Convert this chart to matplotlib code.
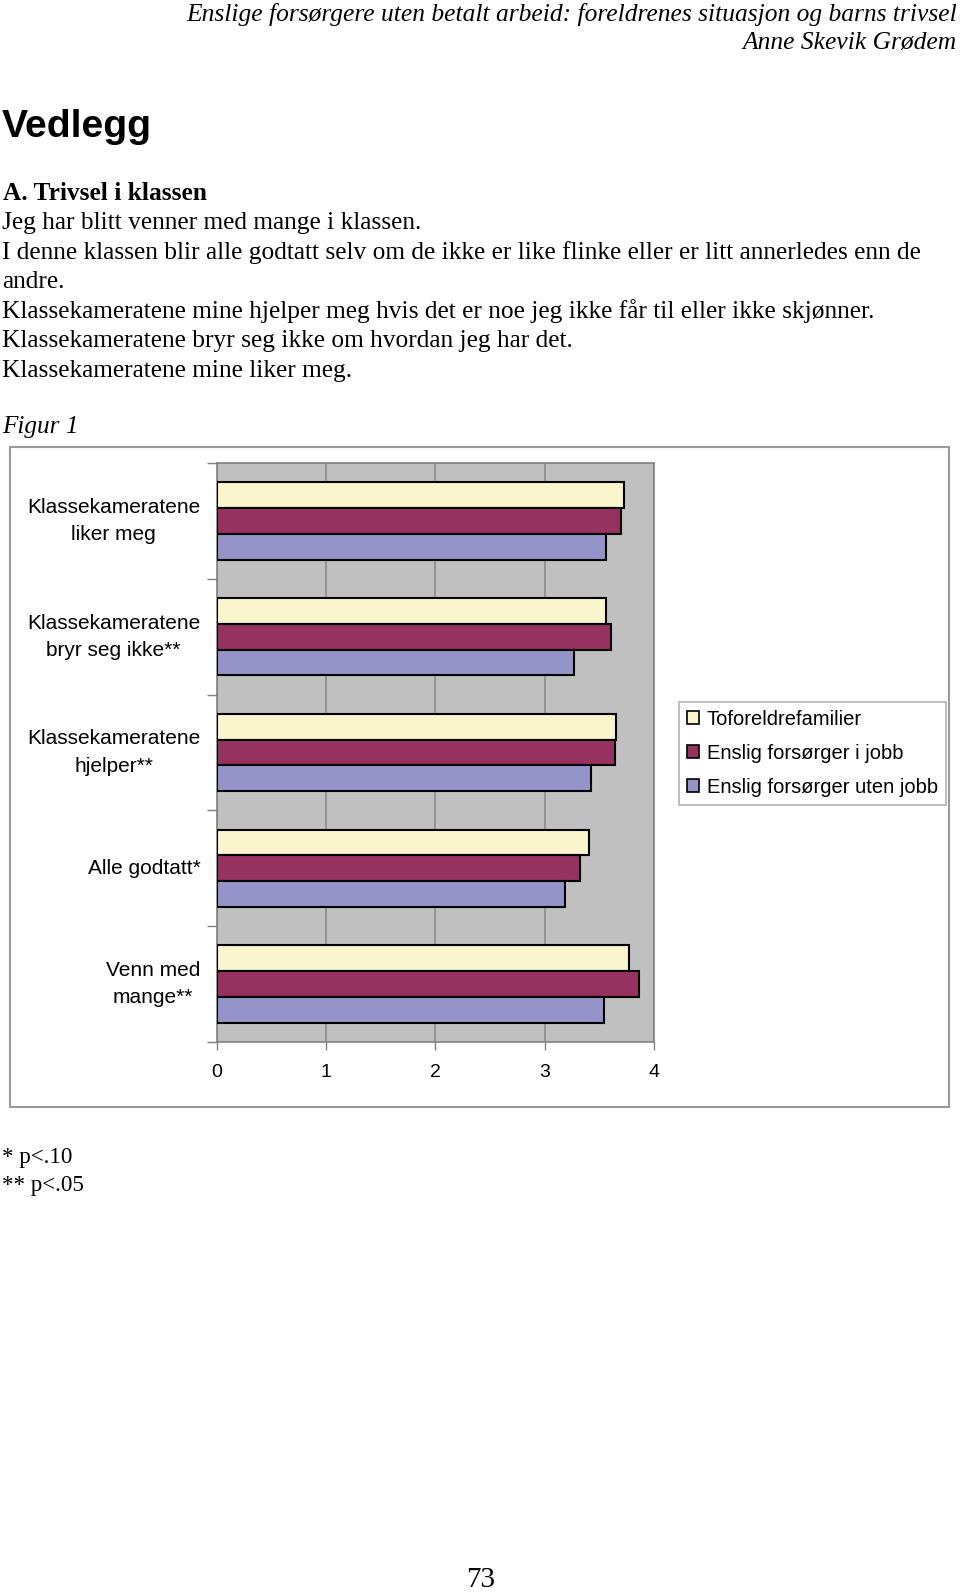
import numpy as np
import matplotlib.pyplot as plt
from matplotlib.patches import Rectangle

categories = ['Klassekameratene\nliker meg', 'Klassekameratene\nbryr seg ikke**',
              'Klassekameratene\nhjelper**', 'Alle godtatt*', 'Venn med\nmange**']
series = ['Toforeldrefamilier', 'Enslig forsørger i jobb', 'Enslig forsørger uten jobb']
toforeldre = [3.73, 3.56, 3.65, 3.41, 3.77]
i_jobb = [3.70, 3.61, 3.64, 3.32, 3.86]
uten_jobb = [3.56, 3.27, 3.42, 3.19, 3.54]
colors = ['#FAF5CD', '#96325F', '#9494C8']

body_lines = [
    'Jeg har blitt venner med mange i klassen.',
    'I denne klassen blir alle godtatt selv om de ikke er like flinke eller er litt annerledes enn de',
    'andre.',
    'Klassekameratene mine hjelper meg hvis det er noe jeg ikke får til eller ikke skjønner.',
    'Klassekameratene bryr seg ikke om hvordan jeg har det.',
    'Klassekameratene mine liker meg.',
]

W, H = 960, 1595
fig = plt.figure(figsize=(W / 100, H / 100), dpi=100)
serif = 'Liberation Serif'
sans = 'Liberation Sans'

def px(x, y):
    return x / W, 1 - y / H

# page text
fig.text(*px(957, 14), 'Enslige forsørgere uten betalt arbeid: foreldrenes situasjon og barns trivsel',
         ha='right', va='center', family=serif, style='italic', fontsize=18.4)
fig.text(*px(957, 43), 'Anne Skevik Grødem', ha='right', va='center',
         family=serif, style='italic', fontsize=18.4)
fig.text(*px(2, 127), 'Vedlegg', ha='left', va='center', family=sans,
         weight='bold', fontsize=28.2)
fig.text(*px(3, 194), 'A. Trivsel i klassen', ha='left', va='center', family=serif,
         weight='bold', fontsize=18.3)
for i, line in enumerate(body_lines):
    fig.text(*px(2, 223 + i * 29.5), line, ha='left', va='center', family=serif, fontsize=18.3)
fig.text(*px(2, 427), 'Figur 1', ha='left', va='center', family=serif, style='italic', fontsize=18.2)
fig.text(*px(2, 1158), '* p<.10', ha='left', va='center', family=serif, fontsize=16.6)
fig.text(*px(2, 1186), '** p<.05', ha='left', va='center', family=serif, fontsize=16.6)
fig.text(*px(481, 1580), '73', ha='center', va='center', family=serif, fontsize=21)

# chart border
fig.patches.append(Rectangle(px(10, 1107), 939 / W, 660 / H, transform=fig.transFigure,
                             fill=False, edgecolor='#9A9A9A', linewidth=1.5))

left, right, top, bottom = 216.5, 654, 463, 1042
ax = fig.add_axes([left / W, 1 - bottom / H, (right - left) / W, (bottom - top) / H])
ax.set_facecolor('#C0C0C0')

y = np.arange(len(categories))
h = 1 / 4.5
for k, (vals, c) in enumerate(zip([toforeldre, i_jobb, uten_jobb], colors)):
    ax.barh(y + (k - 1) * h, vals, height=h, color=c, edgecolor='black',
            linewidth=1.5, label=series[k], zorder=3)

ax.set_xlim(0, 4)
ax.set_ylim(len(categories) - 0.5, -0.5)
ax.set_xticks(range(5))
ax.set_xticklabels([str(v) for v in range(5)], family=sans, fontsize=14)
ax.tick_params(axis='x', length=6, width=1, color='#808080', pad=10)
ax.set_yticks(np.arange(-0.5, len(categories), 1))
ax.set_yticklabels([])
ax.tick_params(axis='y', length=7, width=1, color='#808080')
ax.xaxis.grid(True, color='#8C8C8C', linewidth=1.2, zorder=0)
ax.set_axisbelow(True)
for s in ax.spines.values():
    s.set_color('#808080')
    s.set_linewidth(1.2)
for yi, lab in zip(y, categories):
    ax.text(-0.037, yi, lab, ha='right', va='center', multialignment='center',
            transform=ax.get_yaxis_transform(), family=sans, fontsize=15,
            linespacing=1.55)

handles = [Rectangle((0, 0), 1, 1, facecolor=c, edgecolor='black', linewidth=1.2) for c in colors]
leg = fig.legend(handles, series, loc='upper left', bbox_to_anchor=px(679, 702),
                 prop={'family': sans, 'size': 14.5}, frameon=True, fancybox=False,
                 edgecolor='#A0A0A0', handlelength=0.6, handleheight=0.6,
                 handletextpad=0.4, labelspacing=0.75, borderpad=0.38, borderaxespad=0)
leg.get_frame().set_linewidth(1.2)

fig.savefig('out.png', dpi=100)
